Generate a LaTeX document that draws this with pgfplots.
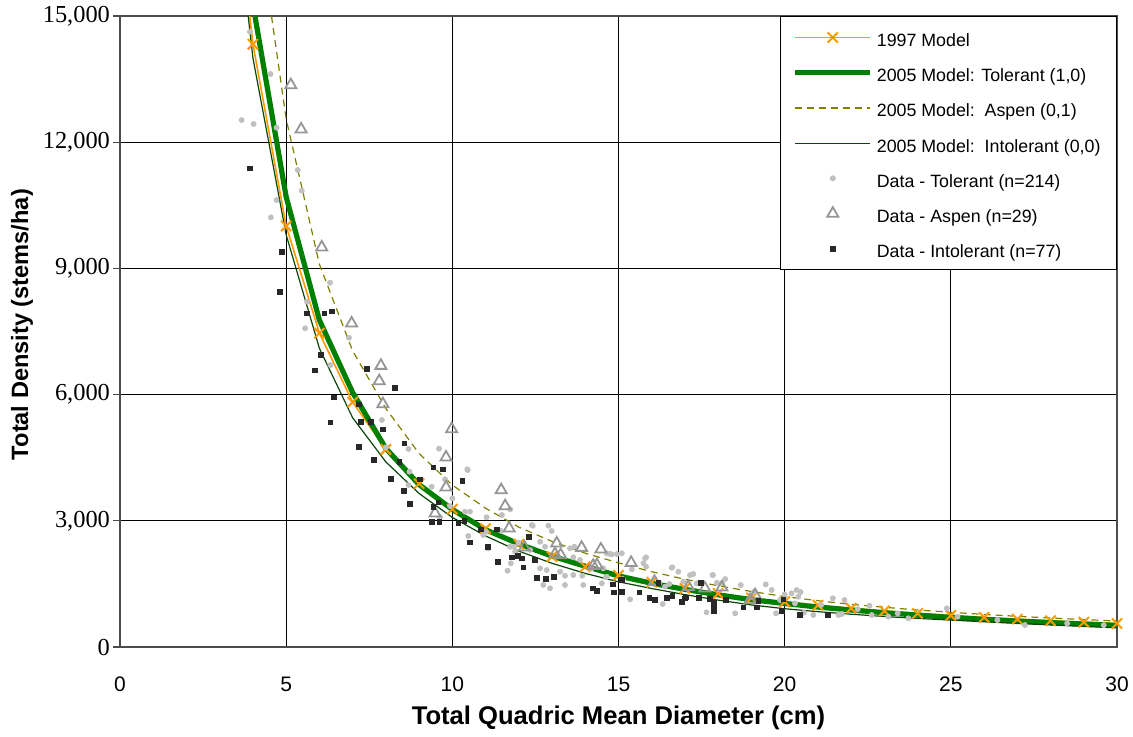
\documentclass[border=0pt]{standalone}
\usepackage{pgfplots}
\pgfplotsset{compat=1.18}
\usepackage{fontspec}
\setmainfont{Liberation Sans}
\newfontfamily\tickserif{Liberation Serif}
\definecolor{orng}{RGB}{255,153,0}
\definecolor{grn}{RGB}{0,128,0}
\definecolor{olv}{RGB}{128,128,0}
\definecolor{dkgrn}{RGB}{10,70,10}
\definecolor{ltgray}{RGB}{192,192,192}
\definecolor{trigray}{RGB}{150,150,150}
\definecolor{sqblack}{RGB}{40,40,40}
\pgfplotsset{midlegend/.style={legend image code/.code={\draw[mark repeat=2,mark phase=2,##1] plot coordinates {(0pt,0pt) (18.75pt,0pt) (37.5pt,0pt)};}}}
\begin{document}
\begin{tikzpicture}
\begin{axis}[
  name=ax,
  width=498.5pt, height=315.5pt, scale only axis,
  xmin=0, xmax=30, ymin=0, ymax=15000,
  xtick={0,5,...,30}, ytick={0,3000,...,15000},
  scaled y ticks=false,
  /pgf/number format/assume math mode=true,
  /pgf/number format/.cd, 1000 sep={,}, /pgfplots/.cd,
  grid=major,
  grid style={black, line width=0.5pt},
  axis line style={black!70, line width=0.6pt},
  tick align=outside,
  ytick pos=left, xtick pos=bottom,
  x tick style={draw=none},
  y tick style={black!70, line width=0.6pt},
  major tick length=3.5pt,
  xticklabel style={font=\fontsize{10.5}{12}\selectfont, yshift=-8pt},
  yticklabel style={font=\fontsize{12.2}{14}\selectfont\tickserif, xshift=2pt},
  xlabel={Total Quadric Mean Diameter (cm)},
  ylabel={Total Density (stems/ha)},
  x label style={font=\fontsize{12.8}{14}\selectfont\bfseries, at={(axis description cs:0.5,-0.1125)}, anchor=center},
  y label style={font=\fontsize{11.8}{14}\selectfont\bfseries, at={(axis description cs:-0.0983,0.511)}, anchor=center},
  legend cell align=left,
  legend style={at={(1,1)}, anchor=north east, draw=black, fill=white,
    line width=0.5pt,
    font=\fontsize{8.9}{10}\selectfont,
    inner xsep=6pt, inner ysep=4pt, row sep=4.6pt,
    nodes={inner sep=2pt, text height=9pt, text depth=0pt}},
  midlegend,
]
% 1997 Model
\addplot[orng, line width=0.8pt, mark=x, mark size=3.6pt, mark options={line width=1pt, solid}] coordinates {
(3.5,17775) (4,14330) (5,10008) (6,7463) (7,5823) (8,4696) (9,3885) (10,3279)
(11,2812) (12,2445) (13,2149) (14,1907) (15,1706) (16,1538) (17,1395) (18,1273)
(19,1167) (20,1074) (21,993) (22,921) (23,857) (24,801) (25,750) (26,704)
(27,663) (28,625) (29,590) (30,559)};
\addlegendentry{1997 Model}
% 2005 Tolerant
\addplot[grn, line width=2.6pt] coordinates {
(4,15275) (5,10700) (6,7770) (7,6050) (8,4720) (9,3860) (10,3270)
(11,2790) (12,2450) (13,2160) (14,1920) (15,1690) (16,1515) (17,1370) (18,1240)
(19,1125) (20,1035) (21,950) (22,880) (23,815) (24,758) (25,705) (26,658)
(27,617) (28,580) (29,546) (30,514)};
\addlegendentry{2005 Model: Tolerant (1,0)}
% 2005 Aspen
\addplot[olv, line width=0.6pt, dash pattern=on 3.5pt off 2.5pt] coordinates {
(4,18100) (5,12550) (6,9100) (7,7040) (8,5670) (9,4600) (10,3850)
(11,3300) (12,2850) (13,2510) (14,2230) (15,2000) (16,1790) (17,1610) (18,1455)
(19,1320) (20,1200) (21,1100) (22,1015) (23,945) (24,880) (25,825) (26,775)
(27,730) (28,690) (29,652) (30,618)};
\addlegendentry{2005 Model:\ \ Aspen (0,1)}
% 2005 Intolerant
\addplot[dkgrn, line width=0.6pt] coordinates {
(3.8,15400) (4,14000) (5,9800) (6,7100) (7,5450) (8,4400) (9,3650) (10,3080)
(11,2640) (12,2280) (13,1990) (14,1750) (15,1550) (16,1390) (17,1245) (18,1115)
(19,1000) (20,910) (21,840) (22,780) (23,725) (24,680) (25,640) (26,600)
(27,560) (28,525) (29,490) (30,455)};
\addlegendentry{2005 Model:\ \ Intolerant (0,0)}
% Data - Tolerant
\addplot[only marks, mark=*, mark size=1.25pt, ltgray, mark options={draw=ltgray, fill=ltgray}, midlegend] coordinates {
(3.66,12527) (4.02,12432) (4.71,12345) (5.35,11339) (5.47,10847) (4.71,10626) (4.54,10214)
(6.32,8660) (4.53,13621) (3.91,14627) (5.63,8209) (5.57,7576) (6.89,7353) (6.33,6704)
(7.88,5396) (8.68,4707) (8.00,4747) (8.71,4167) (8.68,3851) (9.38,3811) (9.60,4714)
(9.78,3986) (10.45,4224) (10.00,3535) (9.93,3352) (10.38,3216) (10.53,3216) (9.63,3083)
(11.03,3083) (10.48,2639) (11.08,2346) (11.46,2765) (11.66,1814) (11.76,1990) (11.86,2384)
(11.99,2481) (12.42,2884) (12.64,1871) (12.89,2884) (12.99,2757) (12.64,2503) (12.79,2384)
(12.94,1395) (13.39,1695) (13.39,1474) (13.67,2384) (13.84,2068) (13.91,1695) (14.19,1871)
(14.75,2211) (14.95,2211) (14.62,1657) (15.35,1133) (15.13,1616) (15.40,1847) (15.80,2108)
(15.83,1909) (16.23,1529) (16.40,1434) (16.62,1894) (16.80,1790) (16.95,1553) (17.15,1711)
(17.25,1735) (17.35,1514) (17.65,825) (17.84,1711) (18.11,1514) (18.21,1616) (15.75,1990)
(16.33,1022) (16.53,1498) (17.96,1529) (18.68,1474) (19.08,1315) (19.43,1490) (19.61,1355)
(18.51,801) (19.74,801) (20.36,1355) (19.86,1117) (20.21,1276) (20.48,1307) (20.41,1196)
(20.31,1038) (20.58,816) (20.86,761) (21.45,1157) (21.80,1117) (21.62,761) (21.72,785)
(22.55,982) (22.62,761) (23.12,721) (23.72,682) (24.88,920) (27.23,523) (11.74,3273)
(11.49,3138) (12.39,2900) (11.01,2741) (11.74,2384) (11.89,2266) (12.34,2306) (12.84,1830)
(12.74,1474) (13.24,1790) (13.54,2346) (13.64,2132) (13.64,1711) (13.94,1474) (14.54,1871)
(14.65,2227) (14.80,2203) (15.10,2227) (14.65,1671) (14.50,1514) (15.10,1593) (10.93,2662)
(10.46,4207) (15.83,2132) (16.60,1885) (17.83,1711) (19.16,944) (20.00,1250) (21.10,1000)
(22.20,900) (23.40,800) (25.20,720) (26.40,640) (28.50,560) (29.60,520)};
\addlegendentry{Data - Tolerant (n=214)}
% Data - Aspen
\addplot[only marks, mark=triangle, mark size=3.2pt, trigray, mark options={draw=trigray, line width=0.9pt, fill=none}, midlegend] coordinates {
(5.14,13360) (5.45,12307) (6.07,9502) (6.97,7695) (7.85,6688) (7.80,6323) (7.91,5777)
(9.98,5182) (9.81,4509) (9.81,3796) (9.48,3178) (11.47,3732) (11.59,3352) (11.71,2822)
(12.17,2370) (13.14,2465) (13.09,2211) (13.26,2187) (13.89,2361) (14.47,2322) (14.24,1933)
(14.35,1950) (15.38,2004) (16.08,1553) (17.10,1434) (17.60,1395) (18.11,1419) (18.96,1117)
(19.11,1236)};
\addlegendentry{Data - Aspen (n=29)}
% Data - Intolerant
\addplot[only marks, mark=square*, mark size=1.2pt, sqblack, mark options={draw=sqblack, fill=sqblack}, midlegend] coordinates {
(3.91,11379) (4.88,9390) (4.82,8439) (5.63,7932) (6.15,7932) (6.37,7979) (6.04,6941)
(5.87,6577) (6.44,5936) (6.33,5341) (7.42,6616) (8.28,6164) (7.20,5769) (7.25,5349)
(7.54,5349) (7.92,5175) (7.19,4761) (7.64,4445) (8.56,4842) (8.41,4391) (8.16,3994)
(9.03,3986) (9.43,4272) (9.71,4224) (8.55,3708) (8.73,3399) (9.43,3335) (9.58,3439)
(9.38,2978) (9.61,2978) (10.18,2940) (10.36,2995) (10.30,3946) (10.86,2798) (11.34,2798)
(10.53,2489) (11.08,2384) (11.38,2028) (11.79,2132) (11.97,2170) (12.09,2108) (12.14,1894)
(12.31,2622) (12.49,2068) (12.82,1616) (13.06,1671) (14.24,1395) (14.36,1338) (14.85,1300)
(15.07,1300) (14.83,1490) (15.63,1300) (15.93,1172) (16.10,1117) (16.20,1529) (16.45,1172)
(16.62,1220) (16.90,1077) (17.00,1157) (17.43,1172) (17.48,1529) (17.76,1141) (17.87,1053)
(17.87,958) (17.87,863) (18.24,1117) (15.10,1593) (15.10,1315) (18.76,944) (19.16,944)
(19.21,1101) (19.96,1133) (19.91,863) (20.46,761) (21.29,761) (17.03,1181) (12.55,1650)};
\addlegendentry{Data - Intolerant (n=77)}
\end{axis}
\pgfresetboundingbox
\path[use as bounding box] ([xshift=-60pt,yshift=-44.5pt]ax.south west) rectangle ([xshift=8pt,yshift=8pt]ax.north east);
\end{tikzpicture}
\end{document}
